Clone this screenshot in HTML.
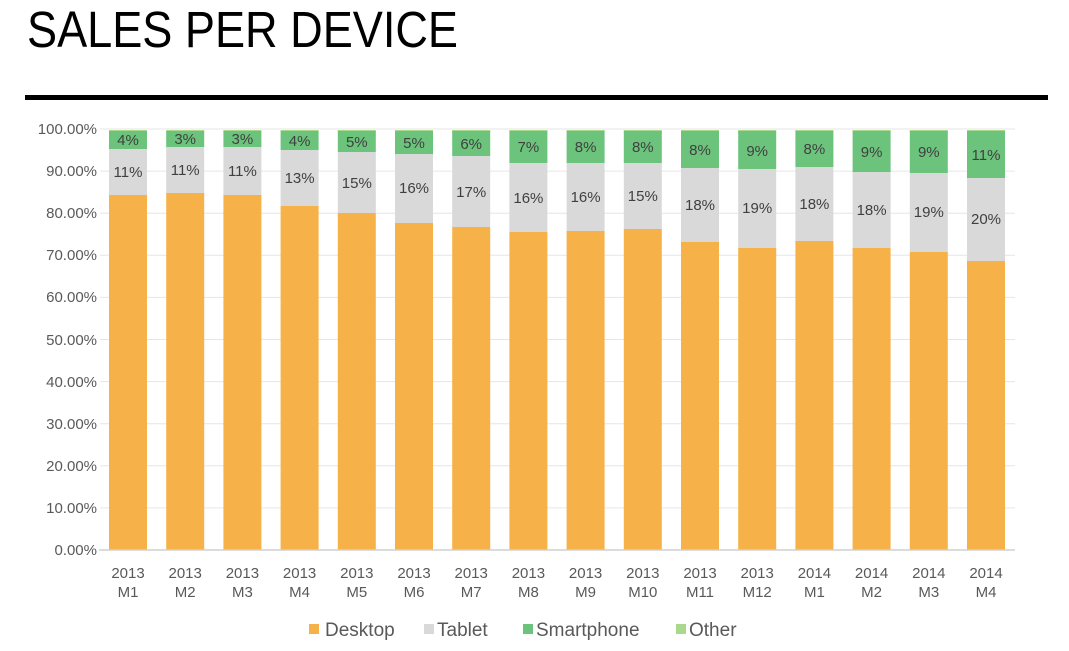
<!DOCTYPE html>
<html><head><meta charset="utf-8"><style>
html,body{margin:0;padding:0;background:#fff;}
svg{display:block;font-family:"Liberation Sans",sans-serif;}
</style></head><body>
<svg width="1069" height="651" viewBox="0 0 1069 651" xmlns="http://www.w3.org/2000/svg">
<text x="27" y="47" font-size="51" fill="#000" textLength="431" lengthAdjust="spacingAndGlyphs">SALES PER DEVICE</text>
<rect x="25" y="95" width="1023" height="5" fill="#000"/>
<g stroke="#e6e6e6" stroke-width="1">
<line x1="100" x2="1015" y1="507.9" y2="507.9"/><line x1="100" x2="1015" y1="465.8" y2="465.8"/>
<line x1="100" x2="1015" y1="423.7" y2="423.7"/><line x1="100" x2="1015" y1="381.6" y2="381.6"/>
<line x1="100" x2="1015" y1="339.5" y2="339.5"/><line x1="100" x2="1015" y1="297.4" y2="297.4"/>
<line x1="100" x2="1015" y1="255.3" y2="255.3"/><line x1="100" x2="1015" y1="213.2" y2="213.2"/>
<line x1="100" x2="1015" y1="171.1" y2="171.1"/><line x1="100" x2="1015" y1="129" y2="129"/>
</g>
<g font-size="15" fill="#595959" text-anchor="end">
<text x="97" y="555">0.00%</text><text x="97" y="513">10.00%</text><text x="97" y="471">20.00%</text>
<text x="97" y="429">30.00%</text><text x="97" y="387">40.00%</text><text x="97" y="345">50.00%</text>
<text x="97" y="302">60.00%</text><text x="97" y="260">70.00%</text><text x="97" y="218">80.00%</text>
<text x="97" y="176">90.00%</text><text x="97" y="134">100.00%</text>
</g>
<g id="bars">
<!-- bar: other, green, grey, orange -->
<rect x="109" y="130" width="38" height="2" fill="#a9d98c"/><rect x="109" y="131" width="38" height="18" fill="#6cc47c"/><rect x="109" y="149" width="38" height="46" fill="#d9d9d9"/><rect x="109" y="195" width="38" height="355" fill="#f6b249"/>
<rect x="166.2" y="130" width="38" height="2" fill="#a9d98c"/><rect x="166.2" y="131" width="38" height="16" fill="#6cc47c"/><rect x="166.2" y="147" width="38" height="46" fill="#d9d9d9"/><rect x="166.2" y="193" width="38" height="357" fill="#f6b249"/>
<rect x="223.4" y="130" width="38" height="2" fill="#a9d98c"/><rect x="223.4" y="131" width="38" height="16" fill="#6cc47c"/><rect x="223.4" y="147" width="38" height="48" fill="#d9d9d9"/><rect x="223.4" y="195" width="38" height="355" fill="#f6b249"/>
<rect x="280.6" y="130" width="38" height="2" fill="#a9d98c"/><rect x="280.6" y="131" width="38" height="19" fill="#6cc47c"/><rect x="280.6" y="150" width="38" height="56" fill="#d9d9d9"/><rect x="280.6" y="206" width="38" height="344" fill="#f6b249"/>
<rect x="337.8" y="130" width="38" height="2" fill="#a9d98c"/><rect x="337.8" y="131" width="38" height="21" fill="#6cc47c"/><rect x="337.8" y="152" width="38" height="61" fill="#d9d9d9"/><rect x="337.8" y="213" width="38" height="337" fill="#f6b249"/>
<rect x="395" y="130" width="38" height="2" fill="#a9d98c"/><rect x="395" y="131" width="38" height="23" fill="#6cc47c"/><rect x="395" y="154" width="38" height="69" fill="#d9d9d9"/><rect x="395" y="223" width="38" height="327" fill="#f6b249"/>
<rect x="452.2" y="130" width="38" height="2" fill="#a9d98c"/><rect x="452.2" y="131" width="38" height="25" fill="#6cc47c"/><rect x="452.2" y="156" width="38" height="71" fill="#d9d9d9"/><rect x="452.2" y="227" width="38" height="323" fill="#f6b249"/>
<rect x="509.4" y="130" width="38" height="2" fill="#a9d98c"/><rect x="509.4" y="131" width="38" height="32" fill="#6cc47c"/><rect x="509.4" y="163" width="38" height="69" fill="#d9d9d9"/><rect x="509.4" y="232" width="38" height="318" fill="#f6b249"/>
<rect x="566.6" y="130" width="38" height="2" fill="#a9d98c"/><rect x="566.6" y="131" width="38" height="32" fill="#6cc47c"/><rect x="566.6" y="163" width="38" height="68" fill="#d9d9d9"/><rect x="566.6" y="231" width="38" height="319" fill="#f6b249"/>
<rect x="623.8" y="130" width="38" height="2" fill="#a9d98c"/><rect x="623.8" y="131" width="38" height="32" fill="#6cc47c"/><rect x="623.8" y="163" width="38" height="66" fill="#d9d9d9"/><rect x="623.8" y="229" width="38" height="321" fill="#f6b249"/>
<rect x="681" y="130" width="38" height="2" fill="#a9d98c"/><rect x="681" y="131" width="38" height="37" fill="#6cc47c"/><rect x="681" y="168" width="38" height="74" fill="#d9d9d9"/><rect x="681" y="242" width="38" height="308" fill="#f6b249"/>
<rect x="738.2" y="130" width="38" height="2" fill="#a9d98c"/><rect x="738.2" y="131" width="38" height="38" fill="#6cc47c"/><rect x="738.2" y="169" width="38" height="79" fill="#d9d9d9"/><rect x="738.2" y="248" width="38" height="302" fill="#f6b249"/>
<rect x="795.4" y="130" width="38" height="2" fill="#a9d98c"/><rect x="795.4" y="131" width="38" height="36" fill="#6cc47c"/><rect x="795.4" y="167" width="38" height="74" fill="#d9d9d9"/><rect x="795.4" y="241" width="38" height="309" fill="#f6b249"/>
<rect x="852.6" y="130" width="38" height="2" fill="#a9d98c"/><rect x="852.6" y="131" width="38" height="41" fill="#6cc47c"/><rect x="852.6" y="172" width="38" height="76" fill="#d9d9d9"/><rect x="852.6" y="248" width="38" height="302" fill="#f6b249"/>
<rect x="909.8" y="130" width="38" height="2" fill="#a9d98c"/><rect x="909.8" y="131" width="38" height="42" fill="#6cc47c"/><rect x="909.8" y="173" width="38" height="79" fill="#d9d9d9"/><rect x="909.8" y="252" width="38" height="298" fill="#f6b249"/>
<rect x="967" y="130" width="38" height="2" fill="#a9d98c"/><rect x="967" y="131" width="38" height="47" fill="#6cc47c"/><rect x="967" y="178" width="38" height="83" fill="#d9d9d9"/><rect x="967" y="261" width="38" height="289" fill="#f6b249"/>
</g>
<line x1="99" x2="1015" y1="550" y2="550" stroke="#d0d0d0" stroke-width="1.5"/>
<g font-size="15" fill="#404040" text-anchor="middle">
<text x="128" y="145">4%</text><text x="128" y="177">11%</text>
<text x="185.2" y="144">3%</text><text x="185.2" y="175">11%</text>
<text x="242.4" y="144">3%</text><text x="242.4" y="176">11%</text>
<text x="299.6" y="146">4%</text><text x="299.6" y="183">13%</text>
<text x="356.8" y="147">5%</text><text x="356.8" y="188">15%</text>
<text x="414" y="148">5%</text><text x="414" y="193">16%</text>
<text x="471.2" y="149">6%</text><text x="471.2" y="197">17%</text>
<text x="528.4" y="152">7%</text><text x="528.4" y="203">16%</text>
<text x="585.6" y="152">8%</text><text x="585.6" y="202">16%</text>
<text x="642.8" y="152">8%</text><text x="642.8" y="201">15%</text>
<text x="700" y="155">8%</text><text x="700" y="210">18%</text>
<text x="757.2" y="156">9%</text><text x="757.2" y="213">19%</text>
<text x="814.4" y="154">8%</text><text x="814.4" y="209">18%</text>
<text x="871.6" y="157">9%</text><text x="871.6" y="215">18%</text>
<text x="928.8" y="157">9%</text><text x="928.8" y="217">19%</text>
<text x="986" y="160">11%</text><text x="986" y="224">20%</text>
</g>
<g font-size="15" fill="#595959" text-anchor="middle">
<text x="128" y="578">2013</text><text x="128" y="597">M1</text>
<text x="185.2" y="578">2013</text><text x="185.2" y="597">M2</text>
<text x="242.4" y="578">2013</text><text x="242.4" y="597">M3</text>
<text x="299.6" y="578">2013</text><text x="299.6" y="597">M4</text>
<text x="356.8" y="578">2013</text><text x="356.8" y="597">M5</text>
<text x="414" y="578">2013</text><text x="414" y="597">M6</text>
<text x="471.2" y="578">2013</text><text x="471.2" y="597">M7</text>
<text x="528.4" y="578">2013</text><text x="528.4" y="597">M8</text>
<text x="585.6" y="578">2013</text><text x="585.6" y="597">M9</text>
<text x="642.8" y="578">2013</text><text x="642.8" y="597">M10</text>
<text x="700" y="578">2013</text><text x="700" y="597">M11</text>
<text x="757.2" y="578">2013</text><text x="757.2" y="597">M12</text>
<text x="814.4" y="578">2014</text><text x="814.4" y="597">M1</text>
<text x="871.6" y="578">2014</text><text x="871.6" y="597">M2</text>
<text x="928.8" y="578">2014</text><text x="928.8" y="597">M3</text>
<text x="986" y="578">2014</text><text x="986" y="597">M4</text>
</g>
<g font-size="19" fill="#595959">
<rect x="309" y="624" width="10" height="10" fill="#f6b249"/><text x="325" y="636">Desktop</text>
<rect x="424" y="624" width="10" height="10" fill="#d9d9d9"/><text x="437" y="636">Tablet</text>
<rect x="523" y="624" width="10" height="10" fill="#6cc47c"/><text x="536" y="636">Smartphone</text>
<rect x="676" y="624" width="10" height="10" fill="#a9d98c"/><text x="689" y="636">Other</text>
</g>
</svg>
</body></html>
